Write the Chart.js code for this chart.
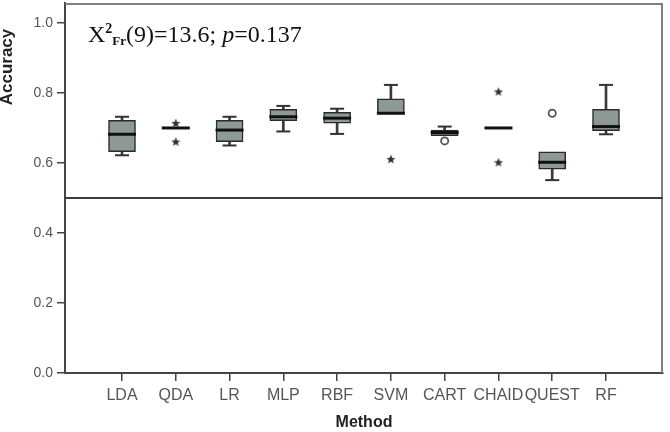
<!DOCTYPE html>
<html>
<head>
<meta charset="utf-8">
<script src="https://cdn.jsdelivr.net/npm/chart.js@4.4.1/dist/chart.umd.min.js"></script>
<style>
	html, body { margin: 0; padding: 0; background: #fff; }
	#wrap { width: 670px; height: 432px; }
</style>
</head>
<body>
<div id="wrap"><canvas id="grafica"></canvas></div>
<script>
// datos
var methods = ["LDA", "QDA", "LR", "MLP", "RBF", "SVM", "CART", "CHAID", "QUEST", "RF"];
var minVals    = [0.622, 0.70, 0.65, 0.69, 0.683, 0.742, 0.678, 0.70, 0.551, 0.682];
var q1Vals     = [0.632, 0.70, 0.661, 0.721, 0.714, 0.742, 0.678, 0.70, 0.582, 0.692];
var medianVals = [0.682, 0.70, 0.694, 0.732, 0.728, 0.742, 0.687, 0.70, 0.602, 0.704];
var q3Vals     = [0.722, 0.70, 0.722, 0.753, 0.745, 0.783, 0.694, 0.70, 0.632, 0.753];
var maxVals    = [0.732, 0.70, 0.732, 0.763, 0.755, 0.823, 0.704, 0.70, 0.632, 0.823];

// outliers
var starMethods  = ["QDA", "QDA", "SVM", "CHAID", "CHAID"];
var starValues   = [0.714, 0.661, 0.611, 0.804, 0.602];
var circleMethods = ["CART", "QUEST"];
var circleValues  = [0.663, 0.742];

var yTicks = [0.0, 0.2, 0.4, 0.6, 0.8, 1.0];
var yMax = 1.057;
var refLine = 0.5;

function crearEstrella()
{
	var c = document.createElement("canvas");
	c.width = 10; c.height = 10;
	var ctx = c.getContext("2d");
	ctx.fillStyle = "#333";
	ctx.beginPath();
	for (var i = 0; i < 10; i++) {
		var r = (i % 2 === 0) ? 4.8 : 2.1;
		var a = -Math.PI / 2 + i * Math.PI / 5;
		var px = 5 + r * Math.cos(a), py = 5.4 + r * Math.sin(a);
		if (i === 0) ctx.moveTo(px, py); else ctx.lineTo(px, py);
	}
	ctx.closePath();
	ctx.fill();
	return c;
}

var lowerWhisker = [], upperWhisker = [], boxes = [], medians = [], caps = [];
for (var i = 0; i < methods.length; i++) {
	boxes.push({x: i, y: [q1Vals[i], q3Vals[i]]});
	medians.push({x: i, y: medianVals[i]});
	if (minVals[i] < q1Vals[i]) {
		lowerWhisker.push({x: i, y: [minVals[i], q1Vals[i]]});
		caps.push({x: i, y: minVals[i]});
	}
	if (maxVals[i] > q3Vals[i]) {
		upperWhisker.push({x: i, y: [q3Vals[i], maxVals[i]]});
		caps.push({x: i, y: maxVals[i]});
	}
}
var stars = starMethods.map(function (m, k) { return {x: methods.indexOf(m), y: starValues[k]}; });
var circles = circleMethods.map(function (m, k) { return {x: methods.indexOf(m), y: circleValues[k]}; });

var marcoPlugin = {
	id: "marco",
	afterDraw: function (chart) {
		var ctx = chart.ctx, a = chart.chartArea;
		var y = chart.scales.y;
		ctx.save();
		// borde superior y derecho
		ctx.strokeStyle = "#808080";
		ctx.lineWidth = 2;
		ctx.beginPath();
		ctx.moveTo(a.left, a.top + 1);
		ctx.lineTo(a.right - 1, a.top + 1);
		ctx.lineTo(a.right - 1, a.bottom);
		ctx.stroke();
		// linea de referencia
		var yr = y.getPixelForValue(refLine);
		ctx.strokeStyle = "#3c3c3c";
		ctx.beginPath();
		ctx.moveTo(a.left, yr);
		ctx.lineTo(a.right, yr);
		ctx.stroke();

		// titulo eje y
		ctx.fillStyle = "#222";
		ctx.font = "bold 17px 'Liberation Sans', Arial, sans-serif";
		ctx.textAlign = "center";
		ctx.textBaseline = "middle";
		ctx.translate(7, a.top + 64);
		ctx.rotate(-Math.PI / 2);
		ctx.fillText("Accuracy", 0, 0);
		ctx.restore();

		// estadistico
		ctx.save();
		ctx.fillStyle = "#111";
		ctx.textBaseline = "alphabetic";
		ctx.textAlign = "left";
		var serif = "'Liberation Serif', 'Times New Roman', serif";
		var px = a.left + 23, base = a.top + 39;
		ctx.font = "24px " + serif;
		ctx.fillText("X", px, base); px += ctx.measureText("X").width;
		ctx.font = "bold 14px " + serif;
		ctx.fillText("2", px, base - 9); px += ctx.measureText("2").width;
		ctx.font = "bold 13px " + serif;
		ctx.fillText("Fr", px, base + 3); px += ctx.measureText("Fr").width;
		ctx.font = "24px " + serif;
		ctx.fillText("(9)=13.6; ", px, base); px += ctx.measureText("(9)=13.6; ").width;
		ctx.font = "italic 24px " + serif;
		ctx.fillText("p", px, base); px += ctx.measureText("p").width;
		ctx.font = "24px " + serif;
		ctx.fillText("=0.137", px, base);
		ctx.restore();
	}
};

var boxColor = "#8d9995";

new Chart(document.getElementById("grafica"), {
	type: "bar",
	data: {
		datasets: [
			{ type: "bar", data: lowerWhisker, barThickness: 2, backgroundColor: "#3a3a3a", grouped: false, order: 6 },
			{ type: "bar", data: upperWhisker, barThickness: 2, backgroundColor: "#3a3a3a", grouped: false, order: 6 },
			{ type: "bar", data: boxes, barThickness: 27, backgroundColor: boxColor, borderColor: "#2b2b2b",
				borderWidth: 1.5, borderSkipped: false, grouped: false, order: 5 },
			{ type: "scatter", data: medians, pointStyle: "line", radius: 14, borderWidth: 3,
				borderColor: "#111", order: 3 },
			{ type: "scatter", data: caps, pointStyle: "line", radius: 7, borderWidth: 2,
				borderColor: "#333", order: 3 },
			{ type: "scatter", data: stars, pointStyle: crearEstrella(), radius: 5, order: 2 },
			{ type: "scatter", data: circles, pointStyle: "circle", radius: 3.6, borderWidth: 1.8,
				borderColor: "#555", backgroundColor: "#fff", order: 2 }
		]
	},
	options: {
		responsive: true,
		maintainAspectRatio: false,
		animation: false,
		layout: { autoPadding: false, padding: { top: 3, right: 7, left: 0, bottom: 0 } },
		plugins: { legend: { display: false }, tooltip: { enabled: false } },
		scales: {
			x: {
				type: "linear",
				min: -1.06,
				max: 10.06,
				offset: false,
				afterBuildTicks: function (scale) {
					scale.ticks = methods.map(function (m, i) { return {value: i}; });
				},
				afterFit: function (scale) {
					scale.height = 59;
					scale.paddingLeft = 0;
					scale.paddingRight = 0;
				},
				ticks: {
					autoSkip: false,
					maxRotation: 0,
					padding: 5,
					color: "#555",
					font: { family: "'Liberation Sans', Arial, sans-serif", size: 16 },
					callback: function (v) { return methods[v]; }
				},
				grid: { drawOnChartArea: false, offset: false, tickLength: 8, color: "#444", lineWidth: 1.5 },
				border: { display: true, color: "#444", width: 2 },
				title: {
					display: true,
					text: "Method",
					color: "#222",
					padding: { top: 0, bottom: 0 },
					font: { family: "'Liberation Sans', Arial, sans-serif", size: 16, weight: "bold" }
				}
			},
			y: {
				min: 0,
				max: yMax,
				afterBuildTicks: function (scale) {
					scale.ticks = yTicks.map(function (v) { return {value: v}; });
				},
				afterFit: function (scale) {
					scale.width = 65;
					scale.paddingTop = 0;
					scale.paddingBottom = 0;
				},
				ticks: {
					padding: 4,
					color: "#555",
					font: { family: "'Liberation Sans', Arial, sans-serif", size: 14 },
					callback: function (v) { return v.toFixed(1); }
				},
				grid: { drawOnChartArea: false, tickLength: 8, color: "#444", lineWidth: 1.5 },
				border: { display: true, color: "#444", width: 2 }
			}
		}
	},
	plugins: [marcoPlugin]
});
</script>
</body>
</html>
